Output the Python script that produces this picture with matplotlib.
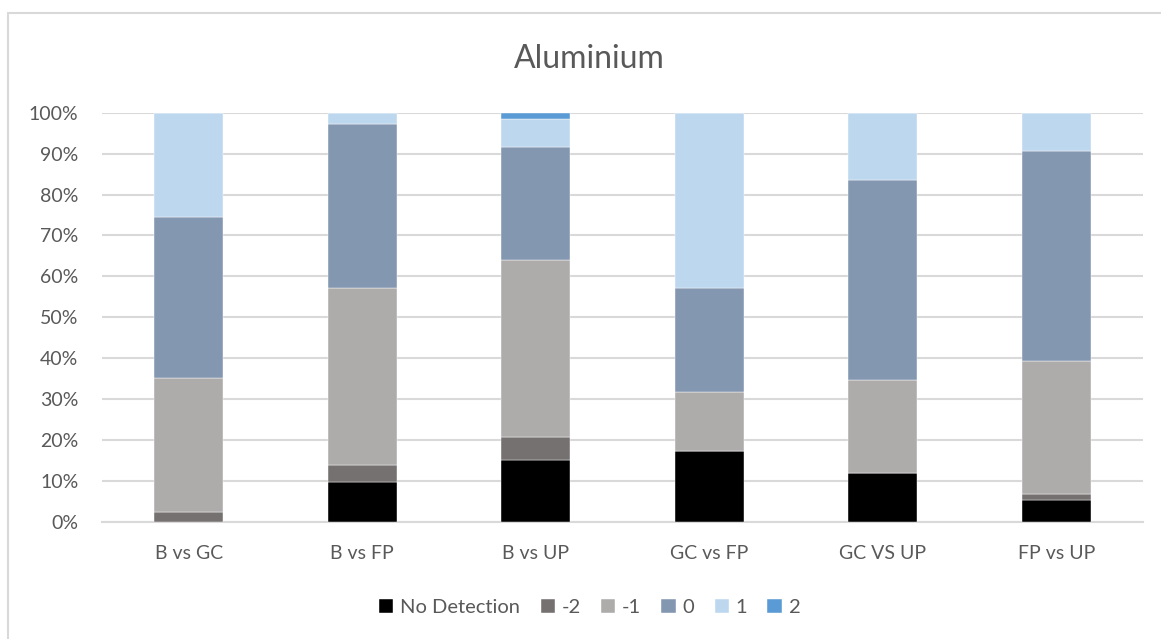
import matplotlib.pyplot as plt
from matplotlib.patches import Rectangle
from matplotlib.ticker import PercentFormatter
import numpy as np

plt.rcParams['font.family'] = ['Lato', 'DejaVu Sans']

# comparison groups along the x axis
groups = ['B vs GC', 'B vs FP', 'B vs UP', 'GC vs FP', 'GC VS UP', 'FP vs UP']

# share of each score per comparison (%)
series_names = ['No Detection', '-2', '-1', '0', '1', '2']
no_detection = [0.0, 9.8, 15.2, 17.2, 12.0, 5.4]
minus_two = [2.4, 4.1, 5.5, 0.0, 0.0, 1.4]
minus_one = [32.7, 43.2, 43.3, 14.4, 22.6, 32.6]
zero = [39.3, 40.1, 27.7, 25.6, 48.9, 51.3]
plus_one = [25.6, 2.8, 6.8, 42.8, 16.5, 9.3]
plus_two = [0.0, 0.0, 1.5, 0.0, 0.0, 0.0]

colors = ['#000000', '#767171', '#aeabab', '#8497b0', '#bdd7ee', '#5b9bd5']
text_col = '#595959'
grid_col = '#d9d9d9'

fig = plt.figure(figsize=(11.61, 6.39), dpi=100)
ax = fig.add_axes([0.0879, 0.1836, 0.8966, 0.64])

x = np.arange(len(groups))
bottom = np.zeros(len(groups))
for name, vals, c in zip(series_names,
                         [no_detection, minus_two, minus_one, zero, plus_one, plus_two],
                         colors):
    vals = np.array(vals)
    ax.bar(x, vals, width=0.4, bottom=bottom, color=c, label=name,
           edgecolor='white', linewidth=0.3, zorder=3)
    bottom += vals

ax.set_xlim(-0.5, len(groups) - 0.5)
ax.set_ylim(0, 100)
ax.set_yticks(np.arange(0, 101, 10))
ax.yaxis.set_major_formatter(PercentFormatter(decimals=0))
ax.set_xticks(x)
ax.set_xticklabels(groups)
ax.tick_params(axis='both', length=0, labelsize=14, colors=text_col)
ax.tick_params(axis='y', pad=17)
ax.tick_params(axis='x', pad=17)
ax.grid(axis='y', color=grid_col, linewidth=1.5, zorder=0)
for s in ['top', 'right', 'left']:
    ax.spines[s].set_visible(False)
ax.spines['bottom'].set_color(grid_col)
ax.spines['bottom'].set_linewidth(1.5)

fig.text(0.508, 0.908, 'Aluminium', ha='center', va='center',
         fontsize=23, color=text_col)

fig.legend(loc='center', bbox_to_anchor=(0.508, 0.049), ncol=6, frameon=False,
           fontsize=14.5, labelcolor=text_col, handlelength=0.7,
           handleheight=0.7, handletextpad=0.35, columnspacing=1.0)

# light frame round the chart area
fig.patches.append(Rectangle((8 / 1161, -0.05), 1.2, 1 - 13 / 639 + 0.05,
                             transform=fig.transFigure, fill=False,
                             edgecolor=grid_col, linewidth=1.5))

fig.savefig('out.png', dpi=100)
